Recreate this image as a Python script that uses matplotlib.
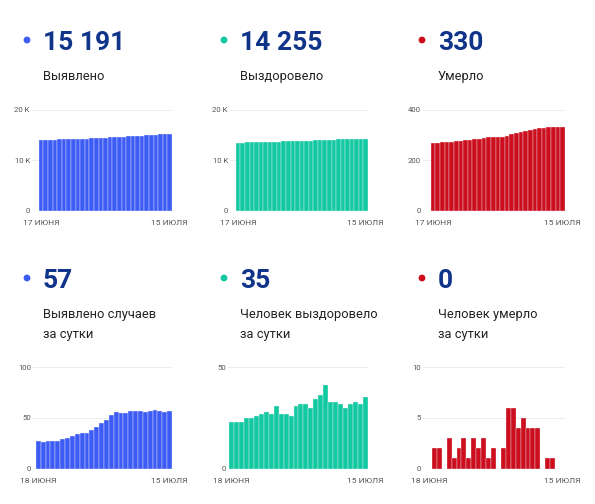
import matplotlib
matplotlib.use("Agg")
import matplotlib.pyplot as plt
from matplotlib.patches import Ellipse

plt.rcParams['font.family'] = ['Roboto', 'DejaVu Sans']

# cumulative, 17 June .. 15 July
cases_total = [13959, 13986, 14012, 14039, 14066, 14093, 14122, 14152, 14184, 14218,
               14253, 14288, 14326, 14367, 14412, 14460, 14513, 14569, 14624, 14679,
               14736, 14793, 14850, 14906, 14963, 15021, 15078, 15134, 15191]
recovered_total = [13421, 13444, 13467, 13490, 13515, 13540, 13566, 13593, 13621, 13648,
                   13679, 13706, 13733, 13759, 13790, 13822, 13854, 13884, 13918, 13954,
                   13995, 14028, 14061, 14093, 14123, 14155, 14188, 14220, 14255]
deaths_total = [268, 268, 270, 272, 272, 275, 276, 278, 281, 282,
                285, 287, 290, 291, 293, 293, 295, 301, 307, 311,
                316, 320, 324, 328, 328, 329, 330, 330, 330]

# daily, 18 June .. 15 July
cases_daily = [27, 26, 27, 27, 27, 29, 30, 32, 34, 35, 35, 38, 41, 45,
               48, 53, 56, 55, 55, 57, 57, 57, 56, 57, 58, 57, 56, 57]
recovered_daily = [23, 23, 23, 25, 25, 26, 27, 28, 27, 31, 27, 27, 26, 31,
                   32, 32, 30, 34, 36, 41, 33, 33, 32, 30, 32, 33, 32, 35]
deaths_daily = [0, 2, 2, 0, 3, 1, 2, 3, 1, 3, 2, 3, 1, 2,
                0, 2, 6, 6, 4, 5, 4, 4, 4, 0, 1, 1, 0, 0]

top_dates = ["17 ИЮНЯ", "15 ИЮЛЯ"]
bottom_dates = ["18 ИЮНЯ", "15 ИЮЛЯ"]

headlines = ["15 191", "14 255", "330", "57", "35", "0"]
captions = ["Выявлено", "Выздоровело", "Умерло",
            "Выявлено случаев\nза сутки", "Человек выздоровело\nза сутки",
            "Человек умерло\nза сутки"]

BLUE = "#3d5cf6"
TEAL = "#12c9a2"
RED = "#cc0e1e"
NAVY = "#0f3489"

W, H = 595, 504
fig = plt.figure(figsize=(W / 100, H / 100), dpi=100)


def px(x, y):
    return x / W, 1 - y / H


def header(x, y, number, caption, color):
    # y = baseline of the big number
    cx, cy = px(x - 16, y - 10)
    fig.patches.append(Ellipse((cx, cy), 5.4 / W, 5.4 / H, transform=fig.transFigure,
                               color=color, zorder=5))
    fig.text(*px(x, y), number, fontsize=19, fontweight="bold", color=NAVY,
             ha="left", va="baseline")
    lines = caption.split("\n")
    for i, line in enumerate(lines):
        fig.text(*px(x, y + 30 + 20 * i), line, fontsize=9.3, color="#222222",
                 ha="left", va="baseline")


def chart(x0, x1, y0, y1, values, color, ymax, ticks, ticklabels, dates, pad):
    ax = fig.add_axes([x0 / W, 1 - y1 / H, (x1 - x0) / W, (y1 - y0) / H])
    n = len(values)
    ax.bar(range(n), values, width=1.0, color=color, edgecolor="#f4f4f4",
           linewidth=0.25, zorder=2)
    ax.set_xlim(-0.5 - pad, n - 0.5)
    ax.set_ylim(0, ymax)
    ax.set_yticks(ticks)
    ax.set_yticklabels(ticklabels)
    ax.set_xticks([0, n - 1])
    ax.set_xticklabels(dates)
    ax.grid(axis="y", color="#ececec", linewidth=0.7, zorder=0)
    for s in ax.spines.values():
        s.set_visible(False)
    ax.tick_params(axis="y", length=0, pad=1.5, labelsize=5.6, labelcolor="#555555")
    ax.tick_params(axis="x", length=0, pad=7, labelsize=6.0, labelcolor="#555555")
    return ax


cols = [(43, BLUE), (240, TEAL), (438, RED)]
for i, (x, c) in enumerate(cols):
    header(x, 50, headlines[i], captions[i], c)
    header(x, 288, headlines[i + 3], captions[i + 3], c)

k_ticks = [0, 10000, 20000]
k_labels = ["0", "10 K", "20 K"]
chart(32, 172, 109.5, 210.5, cases_total, BLUE, 20000, k_ticks, k_labels, top_dates, 1.5)
chart(230, 368, 109.5, 210.5, recovered_total, TEAL, 20000, k_ticks, k_labels, top_dates, 1.3)
chart(423, 565, 109.5, 210.5, deaths_total, RED, 400, [0, 200, 400], ["0", "200", "400"],
      top_dates, 1.7)

chart(33, 172, 367, 468.5, cases_daily, BLUE, 100, [0, 50, 100], ["0", "50", "100"],
      bottom_dates, 0.6)
chart(228, 368, 367, 468.5, recovered_daily, TEAL, 50, [0, 50], ["0", "50"],
      bottom_dates, 0.2)
chart(423, 565, 367, 468.5, deaths_daily, RED, 10, [0, 5, 10], ["0", "5", "10"],
      bottom_dates, 0.8)

fig.savefig("out.png", dpi=100, facecolor="white")
